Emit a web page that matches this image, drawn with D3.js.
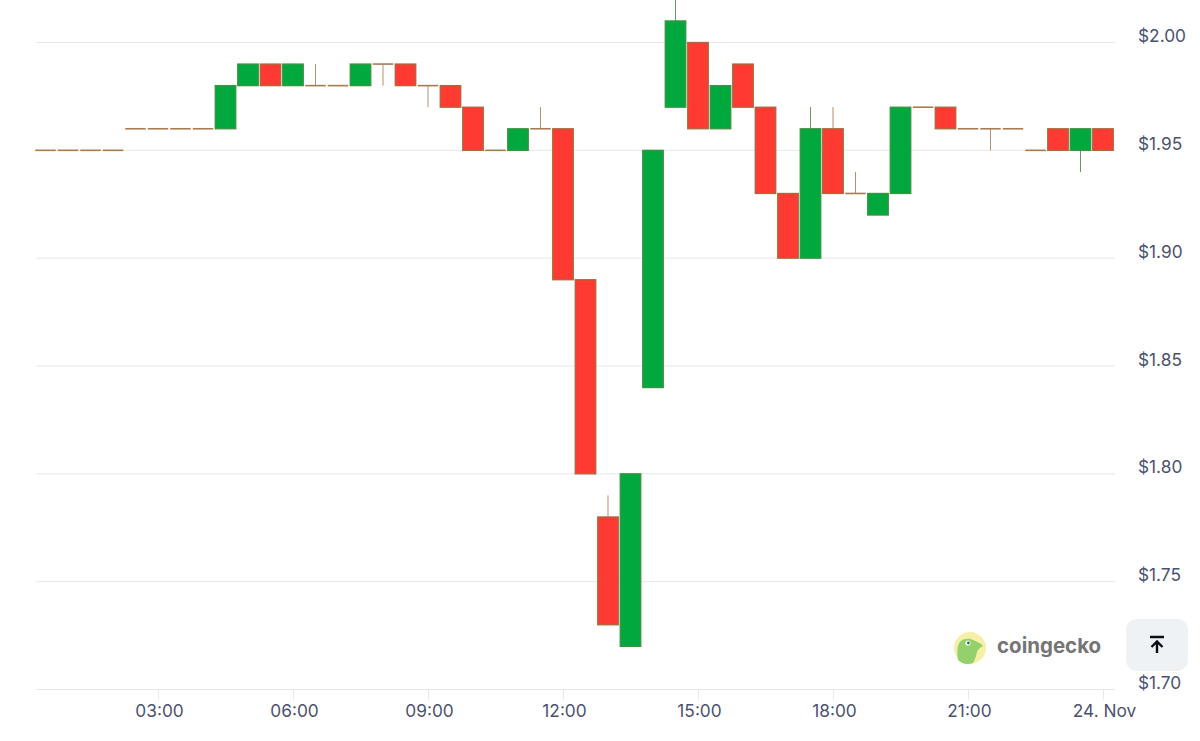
<!DOCTYPE html>
<html>
<head>
<meta charset="utf-8">
<script src="https://cdn.jsdelivr.net/npm/d3@7"></script>
<style>
html, body { margin: 0; padding: 0; background: #fff; }
svg { display: block; }
text { font-family: Inter, "Noto Sans", sans-serif; }
</style>
</head>
<body>
<script>
var width = 1200, height = 741;

var times = ["00:30","01:00","01:30","02:00","02:30","03:00","03:30","04:00","04:30","05:00","05:30","06:00",
    "06:30","07:00","07:30","08:00","08:30","09:00","09:30","10:00","10:30","11:00","11:30","12:00",
    "12:30","13:00","13:30","14:00","14:30","15:00","15:30","16:00","16:30","17:00","17:30","18:00",
    "18:30","19:00","19:30","20:00","20:30","21:00","21:30","22:00","22:30","23:00","23:30","24. Nov"];

var opens = [1.95,1.95,1.95,1.95,1.96,1.96,1.96,1.96,1.96,1.98,1.99,1.98,
    1.98,1.98,1.98,1.99,1.99,1.98,1.98,1.97,1.95,1.95,1.96,1.96,
    1.89,1.78,1.72,1.84,1.97,2.00,1.96,1.99,1.97,1.93,1.90,1.96,
    1.93,1.92,1.93,1.97,1.97,1.96,1.96,1.96,1.95,1.96,1.95,1.96];

var closes = [1.95,1.95,1.95,1.95,1.96,1.96,1.96,1.96,1.98,1.99,1.98,1.99,
    1.98,1.98,1.99,1.99,1.98,1.98,1.97,1.95,1.95,1.96,1.96,1.89,
    1.80,1.73,1.80,1.95,2.01,1.96,1.98,1.97,1.93,1.90,1.96,1.93,
    1.93,1.93,1.97,1.97,1.96,1.96,1.96,1.96,1.95,1.95,1.96,1.95];

var highs = [1.95,1.95,1.95,1.95,1.96,1.96,1.96,1.96,1.98,1.99,1.99,1.99,
    1.99,1.98,1.99,1.99,1.99,1.98,1.98,1.97,1.95,1.96,1.97,1.96,
    1.89,1.79,1.80,1.95,2.02,2.00,1.98,1.99,1.97,1.93,1.97,1.97,
    1.94,1.93,1.97,1.97,1.97,1.96,1.96,1.96,1.95,1.96,1.96,1.96];

var lows = [1.95,1.95,1.95,1.95,1.96,1.96,1.96,1.96,1.96,1.98,1.98,1.98,
    1.98,1.98,1.98,1.98,1.98,1.97,1.97,1.95,1.95,1.95,1.96,1.89,
    1.80,1.73,1.72,1.84,1.97,1.96,1.96,1.97,1.93,1.90,1.90,1.93,
    1.93,1.92,1.93,1.97,1.96,1.96,1.95,1.96,1.95,1.95,1.94,1.95];

var priceTicks = [1.70,1.75,1.80,1.85,1.90,1.95,2.00];
var timeTicks = ["03:00","06:00","09:00","12:00","15:00","18:00","21:00","24. Nov"];

var svg = d3.select("body").append("svg").attr("width", width).attr("height", height);

var x = d3.scalePoint().domain(times).range([45.5, 1103]);
var y = d3.scaleLinear().domain([1.70, 2.00]).range([689.5, 42.5]);

// grid lines
svg.append("g").selectAll("line")
    .data(priceTicks)
    .join("line")
    .attr("x1", 36).attr("x2", 1115)
    .attr("y1", function(d) { return y(d); })
    .attr("y2", function(d) { return y(d); })
    .attr("stroke", "#e6e8ec")
    .attr("stroke-width", 1);

// time axis
var xAxis = svg.append("g")
    .attr("transform", "translate(0,689.5)")
    .call(d3.axisBottom(x).tickValues(timeTicks).tickSize(10).tickPadding(5));
xAxis.select(".domain").remove();
xAxis.selectAll("line").attr("stroke", "#e6e8ec");
xAxis.selectAll("text")
    .attr("dx", 1)
    .attr("fill", "#4b5270")
    .style("font-size", "17.3px")
    .style("font-family", "Inter, sans-serif");

// price labels
svg.append("g").selectAll("text")
    .data(priceTicks)
    .join("text")
    .attr("x", 1138)
    .attr("y", function(d) { return y(d) - 0.5; })
    .attr("fill", "#4b5270")
    .style("font-size", "17.3px")
    .text(function(d) { return "$" + d.toFixed(2); });

var idx = d3.range(times.length);
var isUp = function(i) { return closes[i] > opens[i]; };
var isFlat = function(i) { return closes[i] == opens[i]; };
var bodyW = 20.5;

var candles = svg.append("g");

// wicks
candles.selectAll(".wick")
    .data(idx)
    .join("line")
    .attr("class", "wick")
    .attr("x1", function(i) { return x(times[i]); })
    .attr("x2", function(i) { return x(times[i]); })
    .attr("y1", function(i) { return y(highs[i]); })
    .attr("y2", function(i) { return y(lows[i]); })
    .attr("stroke", function(i) { return isUp(i) ? "#5f9c62" : "#b98f6e"; })
    .attr("stroke-width", 1);

// bodies
candles.selectAll(".body")
    .data(idx.filter(function(i) { return !isFlat(i); }))
    .join("rect")
    .attr("class", "body")
    .attr("x", function(i) { return x(times[i]) - bodyW / 2; })
    .attr("width", bodyW)
    .attr("y", function(i) { return y(Math.max(opens[i], closes[i])); })
    .attr("height", function(i) { return Math.abs(y(opens[i]) - y(closes[i])); })
    .attr("fill", function(i) { return isUp(i) ? "#00a83e" : "#ff3a33"; })
    .attr("stroke", function(i) { return isUp(i) ? "#3a9440" : "#a8693c"; })
    .attr("stroke-width", 1.3);

// open == close, zero height rects do not show so draw a line
candles.selectAll(".flat")
    .data(idx.filter(isFlat))
    .join("line")
    .attr("class", "flat")
    .attr("x1", function(i) { return x(times[i]) - bodyW / 2; })
    .attr("x2", function(i) { return x(times[i]) + bodyW / 2; })
    .attr("y1", function(i) { return y(opens[i]); })
    .attr("y2", function(i) { return y(opens[i]); })
    .attr("stroke", "#a67c52")
    .attr("stroke-width", 1.6);

// watermark
var logo = svg.append("g").attr("transform", "translate(970,648)");
logo.append("circle").attr("r", 16).attr("fill", "#f6efa6");
logo.append("path")
    .attr("d", "M-12,12 C-13,4 -13,-2 -10,-6 C-7,-10 -1,-10 3,-8 C7,-6 11,-5 13,-2 C10,0 8,1 7,4 C6,8 5,12 3,15 C-3,17 -8,16 -12,12 Z")
    .attr("fill", "#93d16d");
logo.append("circle").attr("cx", -2).attr("cy", -5).attr("r", 2.6).attr("fill", "#fff");
logo.append("circle").attr("cx", -1.6).attr("cy", -5).attr("r", 1.4).attr("fill", "#2f6e5a");

svg.append("text")
    .attr("x", 997).attr("y", 653)
    .attr("fill", "#757575")
    .style("font-size", "20.5px")
    .style("font-weight", "700")
    .text("coingecko");

// scroll to top button
var btn = svg.append("g").attr("transform", "translate(1126,619)");
btn.append("rect").attr("width", 62).attr("height", 52).attr("rx", 11).attr("fill", "#eff2f5");
btn.append("path")
    .attr("d", "M24,18 H38 M31,34 V23 M25.5,28 L31,22.5 L36.5,28")
    .attr("fill", "none")
    .attr("stroke", "#0b0e17")
    .attr("stroke-width", 2.4);
</script>
</body>
</html>
